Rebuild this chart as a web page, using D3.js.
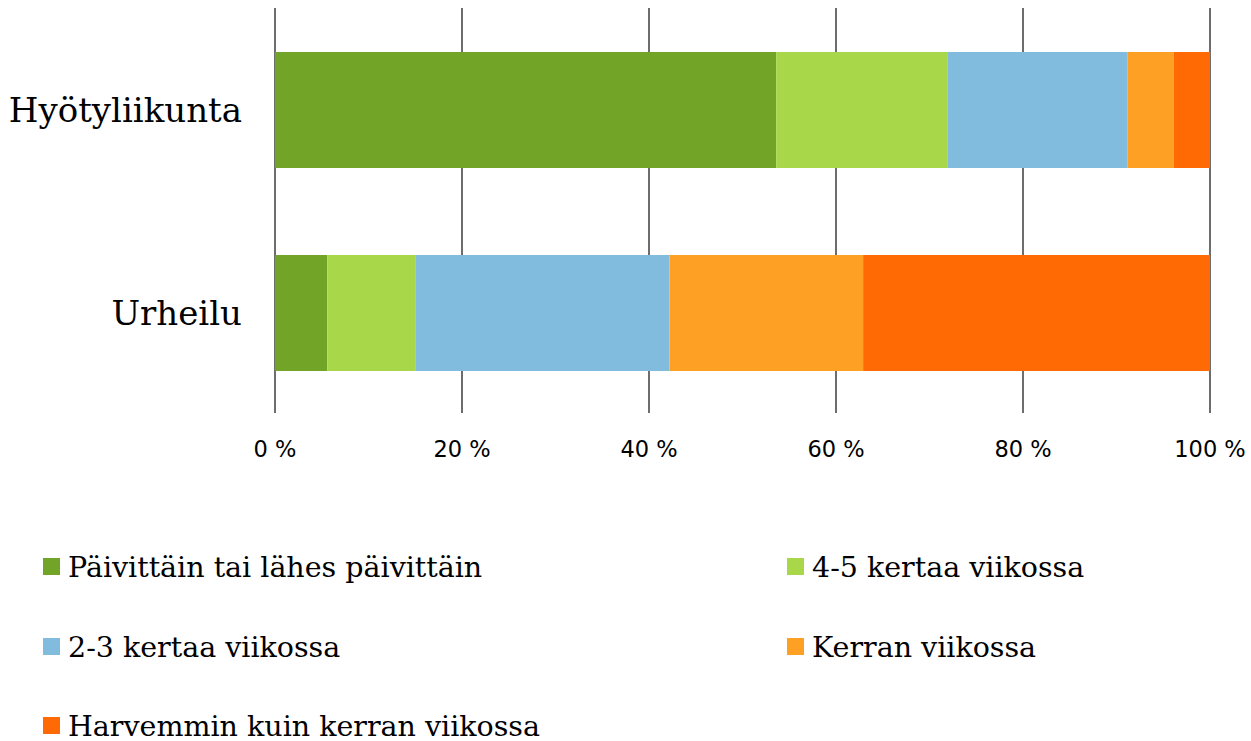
<!DOCTYPE html>
<html>
<head>
<meta charset="utf-8">
<script src="https://cdn.jsdelivr.net/npm/d3@7"></script>
<style>
  html, body { margin: 0; padding: 0; background: #fff; }
  #viz { width: 1251px; height: 741px; }
</style>
</head>
<body>
<div id="viz"></div>
<script>
const WIDTH = 1251, HEIGHT = 741;

const categories = ["Hyötyliikunta", "Urheilu"];
const seriesNames = [
  "Päivittäin tai lähes päivittäin",
  "4-5 kertaa viikossa",
  "2-3 kertaa viikossa",
  "Kerran viikossa",
  "Harvemmin kuin kerran viikossa"
];
// percent shares per category, in series order
const hyotyliikunta = [53.6, 18.3, 19.3, 4.9, 3.9];
const urheilu = [5.6, 9.4, 27.2, 20.7, 37.1];
const tickValues = [0, 20, 40, 60, 80, 100];
const COLORS = ["#72a428", "#a8d84a", "#81bcdf", "#fea024", "#ff6a04"];

const rows = categories.map((c, i) => {
  const vals = [hyotyliikunta, urheilu][i];
  const r = { category: c };
  seriesNames.forEach((s, j) => r[s] = vals[j]);
  return r;
});

const stacked = d3.stack().keys(seriesNames)(rows);

const svg = d3.select("#viz").append("svg")
  .attr("width", WIDTH)
  .attr("height", HEIGHT)
  .attr("viewBox", `0 0 ${WIDTH} ${HEIGHT}`);

const x = d3.scaleLinear().domain([0, 100]).range([275, 1210]);
const y = d3.scaleBand().domain(categories).range([52, 371]).paddingInner(0.4286).paddingOuter(0);

// gridlines
svg.append("g")
  .selectAll("line")
  .data(tickValues)
  .join("line")
  .attr("x1", d => x(d))
  .attr("x2", d => x(d))
  .attr("y1", 8)
  .attr("y2", 413)
  .attr("stroke", "#6d6d6d")
  .attr("stroke-width", 2);

// bars
svg.append("g")
  .selectAll("g")
  .data(stacked)
  .join("g")
  .attr("fill", (d, i) => COLORS[i])
  .selectAll("rect")
  .data(d => d)
  .join("rect")
  .attr("x", d => x(d[0]))
  .attr("y", d => y(d.data.category))
  .attr("width", d => x(d[1]) - x(d[0]))
  .attr("height", y.bandwidth());

// x tick labels
svg.append("g")
  .selectAll("text")
  .data(tickValues)
  .join("text")
  .attr("x", d => x(d))
  .attr("y", 457)
  .attr("text-anchor", "middle")
  .style("font-family", "DejaVu Sans, sans-serif")
  .style("font-size", "22.5px")
  .attr("fill", "#000")
  .text(d => `${d} %`);

// category labels
svg.append("g")
  .selectAll("text")
  .data(categories)
  .join("text")
  .attr("x", 242)
  .attr("y", d => y(d) + y.bandwidth() / 2)
  .attr("dy", "0.35em")
  .attr("text-anchor", "end")
  .style("font-family", "DejaVu Serif, serif")
  .style("font-size", "34px")
  .attr("fill", "#000")
  .text(d => d);

// legend
const legendPos = [[43, 567], [787, 567], [43, 647], [787, 647], [43, 726]];
const legend = svg.append("g");
seriesNames.forEach((s, i) => {
  const [lx, ly] = legendPos[i];
  legend.append("rect")
    .attr("x", lx)
    .attr("y", ly - 9)
    .attr("width", 17)
    .attr("height", 17)
    .attr("fill", COLORS[i]);
  legend.append("text")
    .attr("x", lx + 25)
    .attr("y", ly)
    .attr("dy", "0.35em")
    .style("font-family", "DejaVu Serif, serif")
    .style("font-size", "28.5px")
    .attr("fill", "#000")
    .text(s);
});
</script>
</body>
</html>
